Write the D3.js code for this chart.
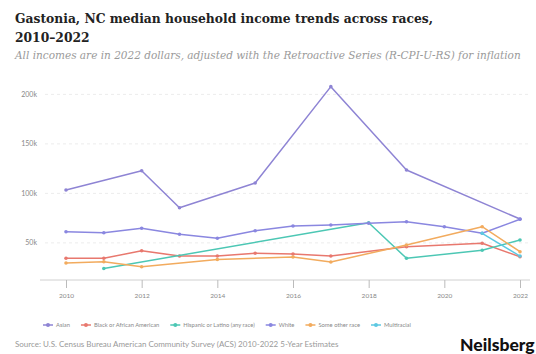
<!DOCTYPE html>
<html>
<head>
<meta charset="utf-8">
<script src="https://cdn.jsdelivr.net/npm/d3@7"></script>
<style>
  body { margin: 0; background: #fff; }
  svg { display: block; }
</style>
</head>
<body>
<svg width="536" height="354"></svg>
<script>
const svg = d3.select("svg");
const width = +svg.attr("width");
const height = +svg.attr("height");

// Data (values in dollars, null where no estimate)
const years = [2010, 2011, 2012, 2013, 2014, 2015, 2016, 2017, 2018, 2019, 2020, 2021, 2022];
const seriesNames = ["Asian", "Black or African American", "Hispanic or Latino (any race)", "White", "Some other race", "Multiracial"];
const asian = [103400, null, 122900, 85500, null, 110500, null, 207800, null, 123600, null, null, 74100];
const black = [34400, 34400, 42100, 36700, 36700, 39500, 38800, 36700, null, 46100, null, 49600, 36000];
const hispanic = [null, 24100, null, null, null, null, null, null, 70400, 34400, null, 42600, 52900];
const white = [61300, 60300, 64700, 58700, 54600, 62300, 67000, 68100, 69800, 71400, 66300, 59700, 73800];
const someOther = [29700, 31000, 25900, null, 33200, null, 35700, 30700, null, 47900, null, 66300, 41100];
const multiracial = [null, null, null, null, null, null, null, null, null, null, null, 59700, 36700];
const yTicks = [50000, 100000, 150000, 200000];
const xTicks = [2010, 2012, 2014, 2016, 2018, 2020, 2022];
const colors = ["#8e84d4", "#e8786e", "#4cc7b4", "#8a87e0", "#f2ab5e", "#5cc8e2"];

const allSeries = [asian, black, hispanic, white, someOther, multiracial];

// Scales
const x = d3.scaleLinear().domain([2010, 2022]).range([66, 520]);
const y = d3.scaleLinear().domain([12500, 212500]).range([280, 82]);

// Title
svg.append("text")
    .attr("x", 15).attr("y", 23)
    .attr("font-family", "DejaVu Serif").attr("font-weight", "bold")
    .attr("font-size", "12.3px").attr("fill", "#222")
    .text("Gastonia, NC median household income trends across races,");
svg.append("text")
    .attr("x", 15).attr("y", 42)
    .attr("font-family", "DejaVu Serif").attr("font-weight", "bold")
    .attr("font-size", "12.3px").attr("fill", "#222")
    .text("2010\u20132022");
svg.append("text")
    .attr("x", 15).attr("y", 59)
    .attr("font-family", "DejaVu Serif").attr("font-style", "italic")
    .attr("font-size", "10.5px").attr("fill", "#9a9a9a")
    .text("All incomes are in 2022 dollars, adjusted with the Retroactive Series (R-CPI-U-RS) for inflation");

// Gridlines + y labels
const yAxis = svg.append("g");
yAxis.selectAll("line").data(yTicks).join("line")
    .attr("x1", 45).attr("x2", 528)
    .attr("y1", d => y(d)).attr("y2", d => y(d))
    .attr("stroke", "#ececec").attr("stroke-dasharray", "3,3");
yAxis.selectAll("text").data(yTicks).join("text")
    .attr("x", 37).attr("y", d => y(d) + 2.5)
    .attr("text-anchor", "end")
    .attr("font-family", "Lato").attr("font-size", "7px").attr("fill", "#888")
    .text(d => d3.format("~s")(d / 1000) + "k");

// X axis
const xAxis = svg.append("g").attr("transform", "translate(0,280)")
    .call(d3.axisBottom(x).tickValues(xTicks).tickFormat(d3.format("d")).tickSize(8).tickSizeOuter(0));
xAxis.select(".domain").attr("stroke", "#d0d0d0").attr("d", "M40,0H530");
xAxis.selectAll(".tick line").attr("stroke", "#bbb");
xAxis.selectAll(".tick text")
    .attr("font-family", "Lato").attr("font-size", "6.5px").attr("fill", "#888").attr("dy", "1.1em");

// Lines
const line = d3.line()
    .x(d => x(d.year))
    .y(d => y(d.v));

allSeries.forEach((vals, i) => {
    const pts = years.map((yr, j) => ({ year: yr, v: vals[j] })).filter(d => d.v !== null);
    svg.append("path")
        .datum(pts)
        .attr("d", line)
        .attr("fill", "none")
        .attr("stroke", colors[i])
        .attr("stroke-width", 1.5)
        .attr("stroke-linejoin", "round");
    svg.append("g").selectAll("circle").data(pts).join("circle")
        .attr("cx", d => x(d.year)).attr("cy", d => y(d.v))
        .attr("r", 1.8)
        .attr("fill", colors[i]);
});

// Legend
const legend = svg.append("g").attr("transform", "translate(0,325)");
let lx = 43;
seriesNames.forEach((name, i) => {
    const g = legend.append("g").attr("transform", `translate(${lx},0)`);
    g.append("line").attr("x1", 0).attr("x2", 10).attr("y1", 0).attr("y2", 0)
        .attr("stroke", colors[i]).attr("stroke-width", 1.5);
    g.append("circle").attr("cx", 5).attr("cy", 0).attr("r", 2).attr("fill", colors[i]);
    const t = g.append("text").attr("x", 13).attr("y", 2)
        .attr("font-family", "Lato").attr("font-size", "5.8px").attr("fill", "#888")
        .text(name);
    lx += 13 + t.node().getComputedTextLength() + 11;
});

// Source + brand
svg.append("text")
    .attr("x", 15).attr("y", 347)
    .attr("font-family", "Lato").attr("font-size", "8px").attr("fill", "#999")
    .text("Source: U.S. Census Bureau American Community Survey (ACS) 2010-2022 5-Year Estimates");
svg.append("text")
    .attr("x", 460).attr("y", 351)
    .attr("font-family", "Lato").attr("font-weight", "900")
    .attr("font-size", "17.5px").attr("fill", "#111")
    .text("Neilsberg");
</script>
</body>
</html>
